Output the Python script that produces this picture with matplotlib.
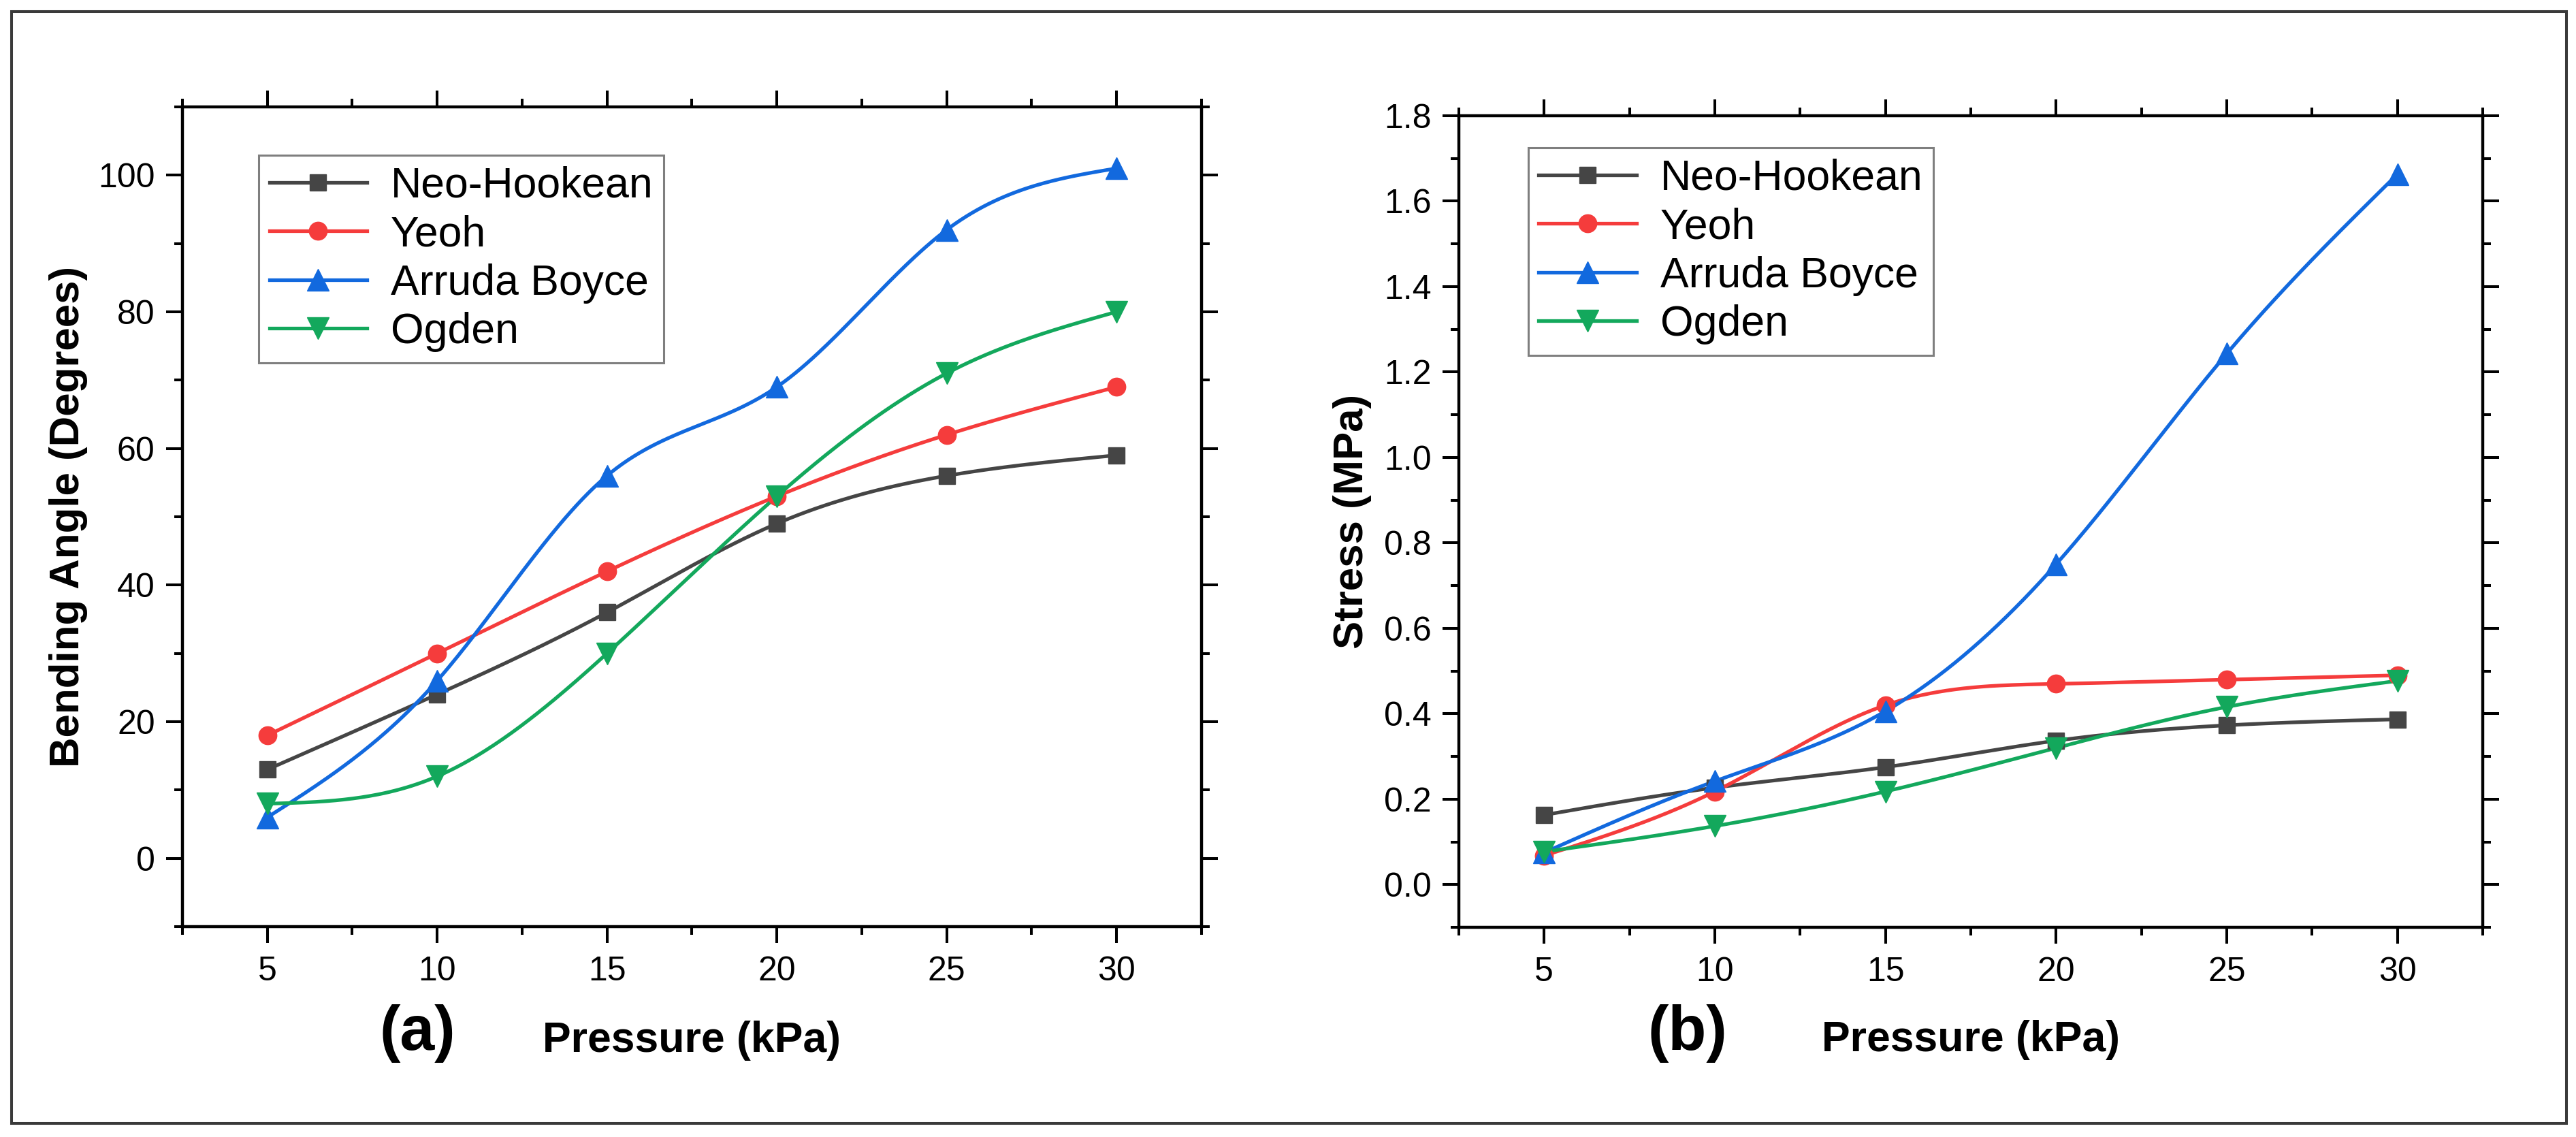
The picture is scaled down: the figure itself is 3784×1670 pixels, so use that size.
import numpy as np
import matplotlib
matplotlib.use("Agg")
import matplotlib.pyplot as plt
from matplotlib.ticker import MultipleLocator, FormatStrFormatter
from matplotlib.patches import Rectangle

plt.rcParams['font.family'] = ['Liberation Sans', 'DejaVu Sans']

# data
pressure = [5, 10, 15, 20, 25, 30]
models = ["Neo-Hookean", "Yeoh", "Arruda Boyce", "Ogden"]

angle_neo = [13, 24, 36, 49, 56, 59]
angle_yeoh = [18, 30, 42, 53, 62, 69]
angle_arruda = [6, 26, 56, 69, 92, 101]
angle_ogden = [8, 12, 30, 53, 71, 80]

stress_neo = [0.163, 0.227, 0.275, 0.337, 0.373, 0.387]
stress_yeoh = [0.068, 0.218, 0.42, 0.47, 0.48, 0.49]
stress_arruda = [0.075, 0.242, 0.406, 0.75, 1.243, 1.663]
stress_ogden = [0.077, 0.137, 0.218, 0.32, 0.416, 0.477]

colors = ["#454545", "#F53C3C", "#1269DE", "#13A85C"]
markers = ["s", "o", "^", "v"]
msizes = [17, 19, 23, 23]


def spline(x, y, n=300):
    # natural cubic spline, like Origin's "Spline" connect mode
    x = np.asarray(x, float)
    y = np.asarray(y, float)
    N = len(x)
    h = np.diff(x)
    A = np.zeros((N, N))
    r = np.zeros(N)
    A[0, 0] = A[-1, -1] = 1
    for i in range(1, N - 1):
        A[i, i - 1] = h[i - 1]
        A[i, i] = 2 * (h[i - 1] + h[i])
        A[i, i + 1] = h[i]
        r[i] = 3 * ((y[i + 1] - y[i]) / h[i] - (y[i] - y[i - 1]) / h[i - 1])
    c = np.linalg.solve(A, r)
    b = (y[1:] - y[:-1]) / h - h * (2 * c[:-1] + c[1:]) / 3
    d = (c[1:] - c[:-1]) / (3 * h)
    xs = np.linspace(x[0], x[-1], n)
    idx = np.clip(np.searchsorted(x, xs, side="right") - 1, 0, N - 2)
    t = xs - x[idx]
    ys = y[idx] + b[idx] * t + c[idx] * t ** 2 + d[idx] * t ** 3
    return xs, ys


def draw(ax, series):
    for vals, name, col, mk, ms in zip(series, models, colors, markers, msizes):
        xs, ys = spline(pressure, vals)
        ax.plot(xs, ys, color=col, lw=3.8, zorder=2)
        ax.plot(pressure, vals, ls="none", marker=mk, ms=ms, color=col,
                mec=col, mew=1, zorder=3)
        # legend proxy
        ax.plot([], [], color=col, lw=3.8, marker=mk, ms=ms, mec=col, label=name)

    ax.set_xlim(2.5, 32.5)
    ax.xaxis.set_major_locator(MultipleLocator(5))
    ax.xaxis.set_minor_locator(MultipleLocator(2.5))
    ax.tick_params(which="both", direction="out", top=True, right=True,
                   width=2.9, color="black")
    ax.tick_params(which="major", length=17, labelsize=36, pad=12)
    ax.tick_params(which="minor", length=8.5)
    ax.tick_params(axis="x", which="major", pad=14)
    for s in ax.spines.values():
        s.set_linewidth(3.2)
        s.set_color("black")
    ax.set_xlabel("Pressure (kPa)", fontsize=45, fontweight="bold", va="center")


fig = plt.figure(figsize=(37.84, 16.70), dpi=100)
ax1 = fig.add_axes([0.0708, 0.185, 0.3956, 0.721])
ax2 = fig.add_axes([0.5663, 0.1844, 0.3975, 0.7138])

draw(ax1, [angle_neo, angle_yeoh, angle_arruda, angle_ogden])
ax1.set_ylim(-10, 110)
ax1.yaxis.set_minor_locator(MultipleLocator(10))
ax1.set_yticks([0, 20, 40, 60, 80, 100])
ax1.set_ylabel("Bending Angle (Degrees)", fontsize=44.5, fontweight="bold",
               ha="center", va="center")
ax1.yaxis.set_label_coords(-0.112, 0.5)
ax1.xaxis.set_label_coords(0.5, -0.139)

draw(ax2, [stress_neo, stress_yeoh, stress_arruda, stress_ogden])
ax2.set_ylim(-0.1, 1.8)
ax2.set_yticks(np.arange(0, 1.81, 0.2))
ax2.yaxis.set_minor_locator(MultipleLocator(0.1))
ax2.yaxis.set_major_formatter(FormatStrFormatter("%.1f"))
ax2.set_ylabel("Stress (MPa)", fontsize=44.5, fontweight="bold",
               ha="center", va="center")
ax2.yaxis.set_label_coords(-0.104, 0.5)
ax2.xaxis.set_label_coords(0.5, -0.139)

for ax, anchor in [(ax1, (0.0748, 0.941)), (ax2, (0.0678, 0.9606))]:
    leg = ax.legend(loc="upper left", bbox_to_anchor=anchor, borderaxespad=0,
                    fontsize=45, handlelength=2.3, handletextpad=0.55,
                    labelspacing=0.2, borderpad=0.25, fancybox=False,
                    framealpha=1, edgecolor="#7f7f7f")
    leg.get_frame().set_linewidth(2.2)

fig.text(0.162, 0.091, "(a)", fontsize=66, fontweight="bold",
         ha="center", va="center")
fig.text(0.655, 0.091, "(b)", fontsize=66, fontweight="bold",
         ha="center", va="center")

# outer frame around the whole figure
fig.patches.append(Rectangle((0.0045, 0.012), 0.9918, 0.9778,
                             transform=fig.transFigure, fill=False,
                             edgecolor="#3a3a3a", linewidth=2.9))

fig.savefig("out.png", dpi=100)
